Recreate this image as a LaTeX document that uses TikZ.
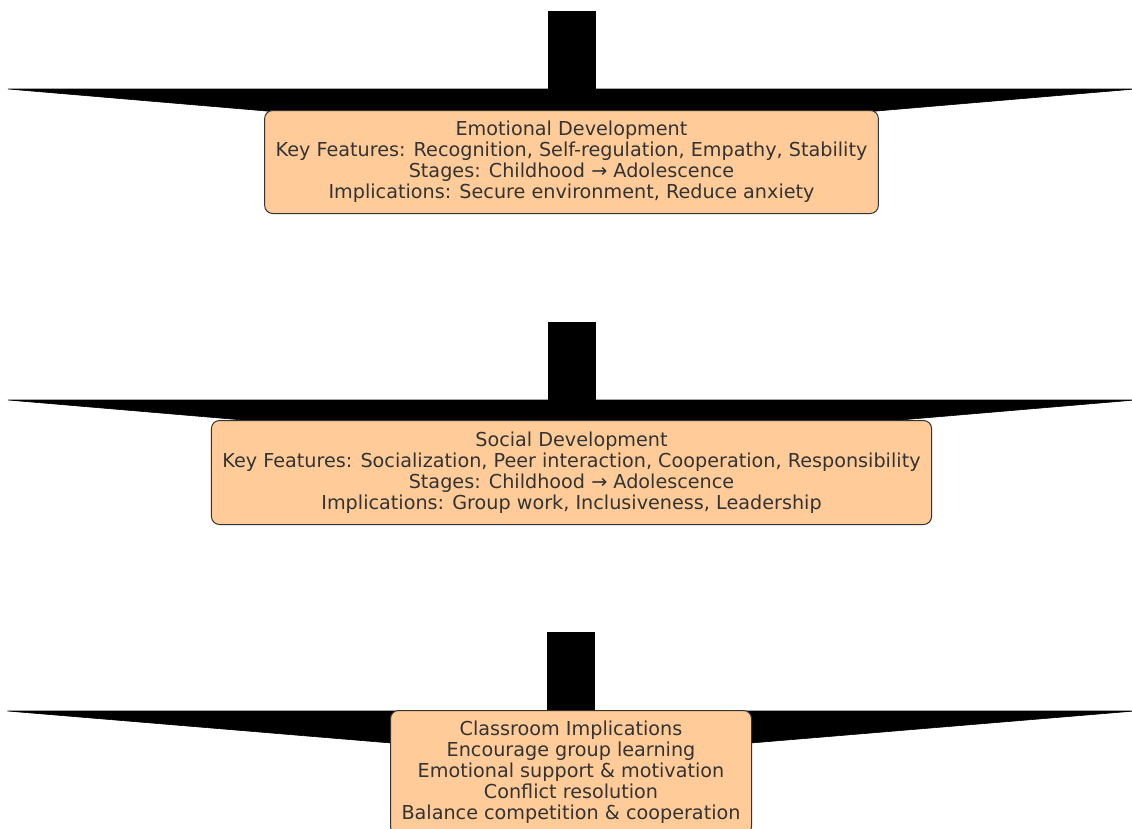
\documentclass[tikz,border=0pt]{standalone}
\usepackage{fontspec}
\setmainfont{DejaVu Sans}
\usetikzlibrary{calc}
\pgfdeclarelayer{bg}
\pgfsetlayers{bg,main}
\definecolor{peach}{HTML}{FFCC99}
\definecolor{txt}{HTML}{333333}
\begin{document}
\begin{tikzpicture}[x=1pt,y=-1pt,
  box/.style={draw=txt, line width=1pt, fill=peach, rounded corners=8pt, align=center,
    text=txt, font=\fontsize{19.2}{21}\selectfont, inner xsep=11pt},
  blk/.style={fill=black, draw=black, line width=0.6pt, line join=miter}]
\useasboundingbox (0,0) rectangle (1132,828);
\clip (0,0) rectangle (1132,828);

\node[box, minimum width=613pt, minimum height=103pt] (emo) at (571.5,162)
  {Emotional Development\\Key Features: Recognition, Self-regulation, Empathy, Stability\\Stages: Childhood → Adolescence\\Implications: Secure environment, Reduce anxiety};
\node[box, minimum width=719pt, minimum height=104pt] (soc) at (571.5,472.5)
  {Social Development\\Key Features: Socialization, Peer interaction, Cooperation, Responsibility\\Stages: Childhood → Adolescence\\Implications: Group work, Inclusiveness, Leadership};
\node[box, minimum width=360pt, minimum height=124pt] (cls) at (571,772.5)
  {Classroom Implications\\Encourage group learning\\Emotional support \& motivation\\Conflict resolution\\Balance competition \& cooperation};

\begin{pgfonlayer}{bg}
  % arrow into Emotional Development
  \fill[blk] ($(emo.north)+(-23.5,-99)$) rectangle ($(emo.north)+(23.5,-21)$);
  \fill[blk] ($(emo.north)+(-563.5,-21)$) -- ($(emo.north)+(563.5,-21)$) -- ($(emo.north)+(0,27)$) -- cycle;
  % arrow into Social Development
  \fill[blk] ($(soc.north)+(-23.5,-98)$) rectangle ($(soc.north)+(23.5,-20)$);
  \fill[blk] ($(soc.north)+(-563.5,-20)$) -- ($(soc.north)+(563.5,-20)$) -- ($(soc.north)+(0,28)$) -- cycle;
  % arrow into Classroom Implications
  \fill[blk] ($(cls.north)+(-23.5,-78)$) rectangle ($(cls.north)+(23.5,1)$);
  \fill[blk] ($(cls.north)+(-563.5,1)$) -- ($(cls.north)+(563.5,1)$) -- ($(cls.north)+(0,48)$) -- cycle;
\end{pgfonlayer}
\end{tikzpicture}
\end{document}
